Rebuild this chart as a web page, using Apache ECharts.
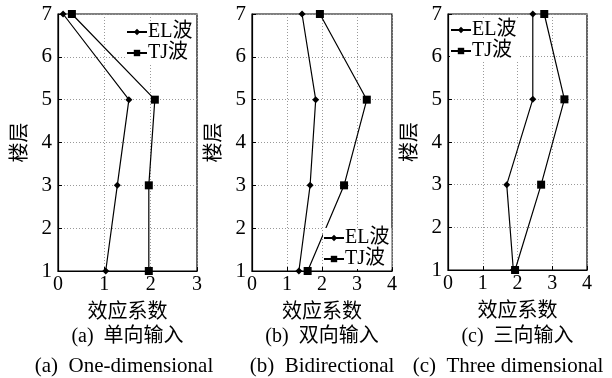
<!DOCTYPE html>
<html><head><meta charset="utf-8">
<script src="https://cdn.jsdelivr.net/npm/echarts@6/dist/echarts.min.js"></script>
<style>html,body{margin:0;padding:0;background:#fff}#c{width:612px;height:378px}</style>
</head><body><div id="c"></div>
<script>
const floors = [1, 3, 5, 7];
const yTicks = [1, 2, 3, 4, 5, 6, 7];
const seriesNames = ['EL波', 'TJ波'];
const el_a = [1.03, 1.28, 1.53, 0.11];
const tj_a = [1.96, 1.96, 2.09, 0.30];
const el_b = [1.34, 1.66, 1.82, 1.43];
const tj_b = [1.59, 2.63, 3.28, 1.94];
const el_c = [1.88, 1.69, 2.44, 2.44];
const tj_c = [1.93, 2.68, 3.35, 2.77];
const xMax = [3, 4, 4];
const xName = '效应系数';
const yName = '楼层';
const captionsCn = ['(a)  单向输入', '(b)  双向输入', '(c)  三向输入'];
const captionsEn = ['(a)  One-dimensional', '(b)  Bidirectional', '(c)  Three dimensional'];

const FONT = '"Liberation Serif", "Noto Sans CJK SC", serif';
const grids = [
  {left: 58, top: 14, width: 139, height: 257},
  {left: 252, top: 14, width: 140, height: 257},
  {left: 448, top: 14, width: 139, height: 256}
];
const enCenters = [124, 322, 508];
const data = [[el_a, tj_a], [el_b, tj_b], [el_c, tj_c]];
const legendPos = [{left: 126, top: 22}, {left: 323, top: 228}, {left: 450, top: 20}];

const option = {
  animation: false,
  backgroundColor: '#fff',
  grid: grids.map(g => Object.assign({show: true, borderColor: '#000', borderWidth: 1.2, containLabel: false}, g)),
  xAxis: grids.map((g, i) => ({
    gridIndex: i, type: 'value', min: 0, max: xMax[i], interval: 1,
    name: xName, nameLocation: 'middle', nameGap: 32,
    nameTextStyle: {fontFamily: FONT, fontSize: 20, color: '#000'},
    axisLine: {show: true, lineStyle: {color: '#000', width: 1.2}},
    axisTick: {show: true, inside: true, length: 4, lineStyle: {color: '#000'}},
    axisLabel: {fontFamily: FONT, fontSize: 20, color: '#000', margin: 4},
    splitLine: {show: true, lineStyle: {color: '#999', type: [1, 2], width: 1}}
  })),
  yAxis: grids.map((g, i) => ({
    gridIndex: i, type: 'value', min: 1, max: 7, interval: 1,
    name: yName, nameLocation: 'middle', nameGap: 27, nameRotate: 90,
    nameTextStyle: {fontFamily: FONT, fontSize: 20, color: '#000'},
    axisLine: {show: true, lineStyle: {color: '#000', width: 1.2}},
    axisTick: {show: true, inside: true, length: 4, lineStyle: {color: '#000'}},
    axisLabel: {fontFamily: FONT, fontSize: 21, color: '#000', margin: 6,
      formatter: v => yTicks.includes(v) ? String(v) : ''},
    splitLine: {show: true, lineStyle: {color: '#999', type: [1, 2], width: 1}}
  })),
  legend: legendPos.map((p, i) => ({
    left: p.left, top: p.top, orient: 'vertical', itemGap: 1,
    itemWidth: 20, itemHeight: 8, padding: [0, 2, 0, 0],
    backgroundColor: '#fff',
    data: seriesNames,
    textStyle: {fontFamily: FONT, fontSize: 20, color: '#000', padding: [0, 0, 0, -4]}
  })),
  series: [],
  graphic: []
};

data.forEach((pair, i) => {
  pair.forEach((vals, k) => {
    option.series.push({
      name: seriesNames[k], type: 'line', xAxisIndex: i, yAxisIndex: i,
      data: vals.map((v, j) => [v, floors[j]]),
      symbol: k === 0 ? 'diamond' : 'rect',
      symbolSize: k === 0 ? 7 : 8,
      lineStyle: {color: '#000', width: 1.2},
      itemStyle: {color: '#000'},
      z: 3
    });
  });
  const cx = grids[i].left + grids[i].width / 2;
  option.graphic.push({type: 'text', x: cx, y: 337, style: {text: captionsCn[i], font: '20px ' + FONT, fill: '#000', textAlign: 'center', textVerticalAlign: 'middle'}});
  option.graphic.push({type: 'text', x: enCenters[i], y: 366, style: {text: captionsEn[i], font: '21px ' + FONT, fill: '#000', textAlign: 'center', textVerticalAlign: 'middle'}});
});

const chart = echarts.init(document.getElementById('c'), null, {renderer: 'canvas'});
chart.setOption(option);
</script></body></html>
